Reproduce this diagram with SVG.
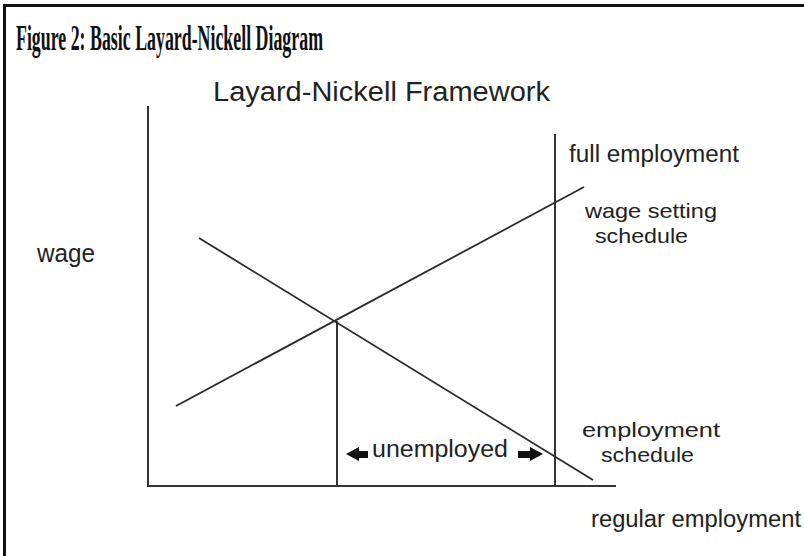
<svg xmlns="http://www.w3.org/2000/svg" width="804" height="556" viewBox="0 0 804 556">
<style>
.t{font-family:"Liberation Sans",Arial,sans-serif;fill:#222}
.big{font-size:27px}
.mid{font-size:26px}
.lab{font-size:21px}
.sm{font-size:23px}
.ln{stroke:#2a2a2a;stroke-width:1.8;fill:none}
.ax{stroke:#333;stroke-width:2;fill:none}
</style>
<rect width="804" height="556" fill="#fff"/>
<path d="M4.5,556 V5.5 H804" stroke="#111" stroke-width="3" fill="none"/>
<text transform="translate(16,50) scale(1,1.35)" font-family="Liberation Serif,serif" font-weight="bold" font-size="26" fill="#111" textLength="307" lengthAdjust="spacingAndGlyphs">Figure 2: Basic Layard-Nickell Diagram</text>
<text class="t big" x="213" y="101" textLength="337" lengthAdjust="spacingAndGlyphs">Layard-Nickell Framework</text>
<g id="connectors">
<path class="ax" d="M148,106 V486 H616"/>
<path class="ax" d="M555,134 V486"/>
<path class="ax" d="M337,321 V486"/>
<path class="ln" d="M176,406 L584,187"/>
<path class="ln" d="M199,238 L593,480"/>
</g>
<g id="wage"><text class="t mid" x="37" y="262" textLength="58" lengthAdjust="spacingAndGlyphs">wage</text></g>
<g id="full-employment"><text class="t sm" x="569" y="162" textLength="170" lengthAdjust="spacingAndGlyphs">full employment</text></g>
<g id="wage-setting-schedule">
<text class="t lab" x="585" y="218" textLength="132" lengthAdjust="spacingAndGlyphs">wage setting</text>
<text class="t lab" x="595" y="243" textLength="93" lengthAdjust="spacingAndGlyphs">schedule</text>
</g>
<g id="employment-schedule">
<text class="t lab" x="582" y="437" textLength="138" lengthAdjust="spacingAndGlyphs">employment</text>
<text class="t lab" x="601" y="462" textLength="93" lengthAdjust="spacingAndGlyphs">schedule</text>
</g>
<g id="unemployed">
<polygon points="346,454 359,447 359,451 368,451 368,458 359,458 359,461" fill="#111"/>
<text class="t sm" x="372" y="457" textLength="136" lengthAdjust="spacingAndGlyphs">unemployed</text>
<polygon points="543,454 530,447 530,451 518,451 518,458 530,458 530,461" fill="#111"/>
</g>
<g id="regular-employment"><text class="t sm" x="591" y="527" textLength="210" lengthAdjust="spacingAndGlyphs">regular employment</text></g>
</svg>
